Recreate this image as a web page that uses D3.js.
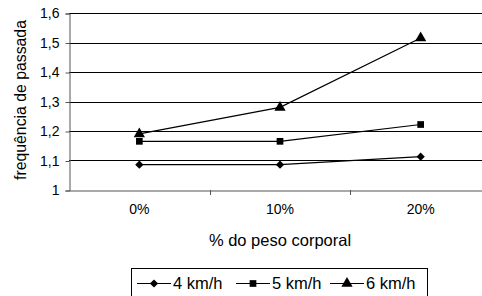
<!DOCTYPE html>
<html>
<head>
<meta charset="utf-8">
<script src="https://cdn.jsdelivr.net/npm/d3@7"></script>
<style>
  body { margin: 0; background: #fff; }
  text { font-family: "Liberation Sans", Arial, sans-serif; fill: #000; }
</style>
</head>
<body>
<svg width="482" height="296"></svg>
<script>
const categories = ['0%', '10%', '20%']
const seriesNames = ['4 km/h', '5 km/h', '6 km/h']
const v4 = [1.086, 1.086, 1.113]
const v5 = [1.165, 1.165, 1.222]
const v6 = [1.19, 1.28, 1.515]
const yTicks = [1, 1.1, 1.2, 1.3, 1.4, 1.5, 1.6]
const yTickLabels = ['1', '1,1', '1,2', '1,3', '1,4', '1,5', '1,6']

const series = [
  {name: seriesNames[0], values: v4, symbol: d3.symbolSquare, size: 34, rot: 45},
  {name: seriesNames[1], values: v5, symbol: d3.symbolSquare, size: 45, rot: 0},
  {name: seriesNames[2], values: v6, symbol: d3.symbolTriangle, size: 55, rot: 0}
]

const LEFT = 69, RIGHT = 491, TOP = 13, BOTTOM = 190
const FONT = '"Liberation Sans", Arial, sans-serif'

const svg = d3.select('svg')

const x = d3.scaleBand()
  .domain(categories)
  .range([LEFT, RIGHT])
const y = d3.scaleLinear()
  .domain([1, 1.6])
  .range([BOTTOM, TOP])

// gridlines
svg.append('g')
  .selectAll('line')
  .data(yTicks.slice(1))
  .enter().append('line')
    .attr('x1', LEFT).attr('x2', RIGHT)
    .attr('y1', d => Math.round(y(d)) + 0.5)
    .attr('y2', d => Math.round(y(d)) + 0.5)
    .attr('stroke', '#000')

// y axis
const yAxis = svg.append('g')
  .attr('transform', `translate(${LEFT + 0.5},0.5)`)
  .call(d3.axisLeft(y).tickValues(yTicks).tickSize(4).tickPadding(6)
    .tickFormat((d, i) => yTickLabels[i]))
yAxis.select('.domain').attr('stroke', '#555')
yAxis.selectAll('.tick line').attr('stroke', '#555')
yAxis.selectAll('text').attr('font-size', 14).attr('font-family', FONT)

// x axis
const xAxis = svg.append('g')
  .attr('transform', `translate(0,${BOTTOM + 0.5})`)
  .call(d3.axisBottom(x).tickSize(0).tickPadding(14))
xAxis.select('.domain').attr('stroke', '#555')
xAxis.selectAll('text').attr('font-size', 14).attr('font-family', FONT)
// ticks between categories
svg.append('g')
  .selectAll('line')
  .data(categories.slice(1))
  .enter().append('line')
    .attr('x1', d => Math.round(x(d)) + 0.5)
    .attr('x2', d => Math.round(x(d)) + 0.5)
    .attr('y1', BOTTOM)
    .attr('y2', BOTTOM + 5)
    .attr('stroke', '#555')

// titles
svg.append('text')
  .attr('x', (LEFT + RIGHT) / 2).attr('y', 246)
  .attr('text-anchor', 'middle')
  .attr('font-size', 16.5)
  .text('% do peso corporal')
svg.append('text')
  .attr('transform', `translate(26,100) rotate(-90)`)
  .attr('text-anchor', 'middle')
  .attr('font-size', 15.8)
  .text('frequência de passada')

const cx = d => x(d) + x.bandwidth() / 2
const line = d3.line()
  .x((d, i) => cx(categories[i]))
  .y(d => y(d))

const sg = svg.append('g')
  .selectAll('g')
  .data(series)
  .enter().append('g')
sg.append('path')
  .attr('d', d => line(d.values))
  .attr('fill', 'none')
  .attr('stroke', '#000')
  .attr('stroke-width', 1.2)
sg.selectAll('path.pt')
  .data(d => d.values.map((v, i) => ({v, i, s: d})))
  .enter().append('path')
    .attr('class', 'pt')
    .attr('d', d => d3.symbol(d.s.symbol, d.s.size)())
    .attr('transform', d => `translate(${cx(categories[d.i])},${y(d.v)}) rotate(${d.s.rot})`)
    .attr('fill', '#000')

// legend
const legend = svg.append('g')
legend.append('rect')
  .attr('x', 131.5).attr('y', 268.5)
  .attr('width', 296).attr('height', 30)
  .attr('fill', '#fff')
  .attr('stroke', '#000')
const legendX = [137, 236, 330]
const li = legend.selectAll('g.item')
  .data(series)
  .enter().append('g')
    .attr('class', 'item')
    .attr('transform', (d, i) => `translate(${legendX[i]},283.5)`)
li.append('line')
  .attr('x1', 0).attr('x2', 34)
  .attr('stroke', '#000')
  .attr('stroke-width', 1.2)
li.append('path')
  .attr('d', d => d3.symbol(d.symbol, d.size)())
  .attr('transform', d => `translate(17,0) rotate(${d.rot})`)
li.append('text')
  .attr('x', 36).attr('y', 5)
  .attr('font-size', 16.5)
  .text(d => d.name)
</script>
</body>
</html>
